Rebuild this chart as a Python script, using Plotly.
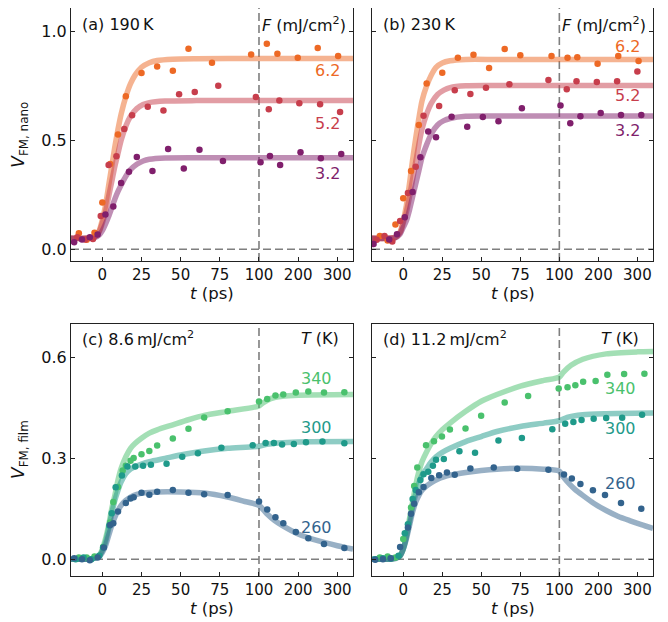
import plotly.graph_objects as go

# ---------------- data ----------------
# (a) 190 K, points
a62_t = [-15, -10, -5, 0, 5, 10, 15, 25, 35, 45, 55, 70, 95, 120, 147, 199, 250, 302]
a62_v = [0.073, 0.043, 0.076, 0.214, 0.391, 0.527, 0.702, 0.809, 0.838, 0.819, 0.920, 0.856, 0.894, 0.943, 0.897, 0.879, 0.923, 0.887]
a52_t = [-16, -11, -6, -1, 4, 9, 14, 19, 29, 39, 49, 59, 74, 98, 125, 152, 203, 256, 307]
a52_v = [0.055, 0.045, 0.047, 0.153, 0.387, 0.427, 0.552, 0.615, 0.654, 0.637, 0.711, 0.722, 0.750, 0.699, 0.642, 0.682, 0.670, 0.665, 0.630]
a32_t = [-18, -13, -8, -3, 2, 7, 12, 17, 22, 32, 42, 52, 62, 77, 104, 128, 154, 206, 258, 310]
a32_v = [0.032, 0.045, 0.055, 0.067, 0.159, 0.196, 0.304, 0.356, 0.423, 0.359, 0.460, 0.371, 0.457, 0.405, 0.399, 0.428, 0.387, 0.445, 0.417, 0.437]
# (a) fits
fa62_t = [-20, -10, -5, -2, 0, 2, 4, 6, 8, 10, 12, 15, 18, 21, 25, 30, 35, 45, 60, 100, 200, 340]
fa62_v = [0.05, 0.05, 0.055, 0.085, 0.135, 0.20, 0.29, 0.38, 0.47, 0.55, 0.62, 0.70, 0.76, 0.80, 0.835, 0.856, 0.866, 0.872, 0.874, 0.875, 0.875, 0.875]
fa52_t = [-20, -10, -5, -2, 0, 2, 4, 6, 8, 10, 12, 15, 18, 22, 26, 30, 40, 60, 100, 200, 340]
fa52_v = [0.05, 0.05, 0.055, 0.08, 0.12, 0.17, 0.24, 0.31, 0.38, 0.44, 0.50, 0.565, 0.61, 0.645, 0.664, 0.673, 0.680, 0.682, 0.682, 0.682, 0.682]
fa32_t = [-20, -10, -5, -2, 0, 2, 4, 6, 8, 10, 12, 15, 18, 22, 26, 30, 40, 60, 100, 200, 340]
fa32_v = [0.05, 0.05, 0.053, 0.065, 0.085, 0.115, 0.15, 0.19, 0.23, 0.265, 0.295, 0.335, 0.365, 0.39, 0.405, 0.413, 0.419, 0.42, 0.42, 0.42, 0.42]

# (b) 230 K, points
b62_t = [-15, -10, -5, 0, 5, 10, 15, 25, 35, 45, 55, 65, 75, 95, 121, 146, 198, 251, 303]
b62_v = [0.061, 0.040, 0.113, 0.234, 0.359, 0.570, 0.760, 0.810, 0.879, 0.893, 0.832, 0.919, 0.890, 0.887, 0.879, 0.881, 0.851, 0.887, 0.864]
b52_t = [-17, -12, -7, -2, 3, 8, 13, 23, 33, 43, 53, 68, 93, 119, 144, 196, 248, 300]
b52_v = [0.043, 0.061, 0.035, 0.130, 0.258, 0.378, 0.613, 0.657, 0.729, 0.712, 0.741, 0.757, 0.777, 0.734, 0.771, 0.767, 0.771, 0.816]
b32_t = [-19, -9, -4, 1, 6, 11, 16, 21, 31, 41, 51, 61, 76, 103, 128, 154, 206, 258, 310]
b32_v = [0.024, 0.045, 0.069, 0.147, 0.263, 0.422, 0.540, 0.514, 0.608, 0.562, 0.607, 0.587, 0.647, 0.659, 0.578, 0.610, 0.625, 0.616, 0.616]
# (b) fits
fb62_t = [-20, -10, -5, -2, 0, 2, 4, 6, 8, 10, 12, 15, 18, 21, 25, 30, 40, 60, 100, 200, 340]
fb62_v = [0.05, 0.05, 0.055, 0.08, 0.13, 0.20, 0.30, 0.41, 0.51, 0.60, 0.68, 0.75, 0.80, 0.835, 0.855, 0.865, 0.871, 0.871, 0.871, 0.871, 0.871]
fb52_t = [-20, -10, -5, -2, 0, 2, 4, 6, 8, 10, 12, 15, 18, 22, 26, 30, 40, 60, 100, 200, 340]
fb52_v = [0.05, 0.05, 0.054, 0.075, 0.12, 0.17, 0.24, 0.32, 0.40, 0.48, 0.55, 0.62, 0.67, 0.71, 0.73, 0.742, 0.75, 0.751, 0.751, 0.751, 0.751]
fb32_t = [-20, -10, -5, -2, 0, 2, 4, 6, 8, 10, 12, 15, 18, 22, 26, 30, 40, 60, 100, 200, 340]
fb32_v = [0.05, 0.05, 0.053, 0.07, 0.10, 0.13, 0.18, 0.24, 0.30, 0.36, 0.42, 0.48, 0.53, 0.57, 0.59, 0.60, 0.61, 0.611, 0.611, 0.611, 0.611]

# (c) 8.6 mJ/cm2, points
c340_t = [-15, -10, -5, 0.5, 5, 7, 10, 13, 15, 18, 20, 25, 30, 35, 45, 55, 65, 80, 100, 121, 142, 162, 194, 226, 266, 318]
c340_v = [0.005, 0.005, 0.008, 0.036, 0.109, 0.17, 0.215, 0.264, 0.278, 0.293, 0.301, 0.312, 0.322, 0.338, 0.359, 0.388, 0.422, 0.44, 0.469, 0.477, 0.487, 0.49, 0.496, 0.499, 0.496, 0.497]
c300_t = [-17, -12, -7, -2, 0.5, 4.5, 6, 8.5, 12.5, 16, 21, 26, 31, 41, 51, 61, 76, 96, 117, 138, 159, 189, 220, 262, 318]
c300_v = [0.0, 0.005, 0.0, 0.01, 0.035, 0.10, 0.137, 0.214, 0.249, 0.276, 0.276, 0.278, 0.281, 0.284, 0.305, 0.315, 0.332, 0.339, 0.346, 0.346, 0.341, 0.343, 0.348, 0.350, 0.345]
c260_t = [-18, -13, -8, -3, 1, 5, 7, 10, 15, 18, 20, 25, 30, 35, 45, 55, 65, 80, 100, 121, 142, 162, 194, 226, 266, 318]
c260_v = [0.003, 0.0, -0.003, 0.005, 0.035, 0.102, 0.107, 0.142, 0.167, 0.181, 0.184, 0.198, 0.192, 0.201, 0.206, 0.198, 0.193, 0.191, 0.172, 0.148, 0.125, 0.107, 0.081, 0.062, 0.045, 0.033]
# (c) fits
fc340_t = [-20, -10, -5, -2, 0, 2, 4, 6, 8, 10, 12, 15, 18, 21, 25, 30, 35, 45, 55, 65, 80, 100, 110, 130, 160, 200, 340]
fc340_v = [0.0, 0.0, 0.003, 0.01, 0.03, 0.06, 0.10, 0.15, 0.19, 0.235, 0.27, 0.305, 0.33, 0.345, 0.36, 0.375, 0.385, 0.40, 0.415, 0.428, 0.44, 0.456, 0.465, 0.478, 0.485, 0.488, 0.49]
fc300_t = [-20, -10, -5, -2, 0, 2, 4, 6, 8, 10, 12, 15, 18, 21, 25, 30, 40, 50, 65, 80, 100, 120, 150, 200, 340]
fc300_v = [0.0, 0.0, 0.003, 0.01, 0.025, 0.05, 0.09, 0.135, 0.175, 0.205, 0.23, 0.255, 0.268, 0.276, 0.283, 0.29, 0.30, 0.31, 0.322, 0.33, 0.336, 0.342, 0.346, 0.349, 0.35]
fc260_t = [-20, -10, -5, -2, 0, 2, 4, 6, 8, 10, 12, 15, 18, 22, 26, 35, 50, 65, 80, 90, 100, 120, 140, 160, 200, 250, 300, 340]
fc260_v = [0.0, 0.0, 0.003, 0.008, 0.02, 0.04, 0.07, 0.10, 0.125, 0.145, 0.16, 0.175, 0.185, 0.193, 0.197, 0.20, 0.20, 0.197, 0.185, 0.173, 0.16, 0.135, 0.115, 0.10, 0.075, 0.055, 0.04, 0.03]

# (d) 11.2 mJ/cm2, points
d340_t = [-15, -10, -5, 0, 5, 7, 9, 14.6, 19.7, 24.8, 29.9, 39.9, 49.9, 65, 80, 99.6, 121, 141, 161, 193, 223, 266, 318]
d340_v = [0.005, 0.008, 0.005, 0.06, 0.154, 0.218, 0.273, 0.339, 0.351, 0.365, 0.386, 0.389, 0.427, 0.466, 0.486, 0.508, 0.512, 0.518, 0.528, 0.530, 0.549, 0.551, 0.552]
d300_t = [-18, -13, -8, -3, 1, 3, 6, 8, 11, 13, 16, 19, 21, 26, 36, 46, 61, 76, 95.5, 115, 136, 157, 188, 220, 261, 312]
d300_v = [0.0, 0.003, 0.002, 0.01, 0.077, 0.104, 0.179, 0.206, 0.236, 0.253, 0.26, 0.278, 0.296, 0.298, 0.321, 0.317, 0.353, 0.361, 0.387, 0.403, 0.408, 0.414, 0.418, 0.420, 0.421, 0.430]
d260_t = [-18, -13, -8, -2, 3, 5, 7, 10, 13, 18, 23, 28, 33, 43, 58, 73, 93, 112, 132, 154, 186, 217, 258, 310]
d260_v = [-0.002, 0.0, 0.003, 0.036, 0.094, 0.135, 0.165, 0.199, 0.215, 0.242, 0.25, 0.258, 0.251, 0.27, 0.273, 0.269, 0.266, 0.252, 0.240, 0.224, 0.205, 0.191, 0.167, 0.150]
# (d) fits
fd340_t = [-20, -10, -5, -2, 0, 2, 4, 6, 8, 10, 12, 15, 18, 21, 25, 30, 40, 50, 60, 75, 90, 100, 110, 130, 160, 220, 300, 340]
fd340_v = [0.0, 0.0, 0.003, 0.01, 0.03, 0.07, 0.12, 0.17, 0.22, 0.26, 0.29, 0.32, 0.345, 0.365, 0.385, 0.405, 0.44, 0.47, 0.49, 0.515, 0.532, 0.542, 0.556, 0.577, 0.595, 0.611, 0.617, 0.618]
fd300_t = [-20, -10, -5, -2, 0, 2, 4, 6, 8, 10, 12, 15, 18, 21, 25, 30, 40, 50, 60, 75, 90, 100, 120, 160, 220, 340]
fd300_v = [0.0, 0.0, 0.003, 0.01, 0.03, 0.065, 0.11, 0.155, 0.195, 0.225, 0.25, 0.27, 0.29, 0.305, 0.318, 0.33, 0.35, 0.365, 0.38, 0.395, 0.405, 0.412, 0.422, 0.43, 0.433, 0.435]
fd260_t = [-20, -10, -5, -2, 0, 2, 4, 6, 8, 10, 12, 15, 18, 22, 26, 30, 40, 50, 60, 75, 90, 100, 110, 125, 140, 160, 190, 220, 250, 280, 310, 340]
fd260_v = [0.0, 0.0, 0.002, 0.01, 0.03, 0.06, 0.10, 0.14, 0.17, 0.19, 0.205, 0.218, 0.228, 0.238, 0.245, 0.25, 0.258, 0.264, 0.268, 0.271, 0.268, 0.262, 0.245, 0.225, 0.208, 0.19, 0.165, 0.145, 0.128, 0.115, 0.103, 0.092]

tick_vals = [0, 25, 50, 75, 100, 200, 300]
tick_text = ["0", "25", "50", "75", "100", "200", "300"]

# ---------------- styling ----------------
C62, C52, C32 = "#ED6925", "#C73E4C", "#801F6C"
C340, C300, C260 = "#4AC16D", "#1F9A8A", "#33638D"
FONT = "DejaVu Sans"
FS = 16
TFS = 15


def tx(t):
    """broken time axis: linear to 100 ps, compressed x1/4 beyond"""
    return t if t <= 100 else 100 + (t - 100) / 4.0


def txl(ts):
    return [tx(t) for t in ts]


fig = go.Figure()

panels = [
    ("x", "y", [(fa62_t, fa62_v, a62_t, a62_v, C62), (fa52_t, fa52_v, a52_t, a52_v, C52), (fa32_t, fa32_v, a32_t, a32_v, C32)]),
    ("x2", "y2", [(fb62_t, fb62_v, b62_t, b62_v, C62), (fb52_t, fb52_v, b52_t, b52_v, C52), (fb32_t, fb32_v, b32_t, b32_v, C32)]),
    ("x3", "y3", [(fc340_t, fc340_v, c340_t, c340_v, C340), (fc300_t, fc300_v, c300_t, c300_v, C300), (fc260_t, fc260_v, c260_t, c260_v, C260)]),
    ("x4", "y4", [(fd340_t, fd340_v, d340_t, d340_v, C340), (fd300_t, fd300_v, d300_t, d300_v, C300), (fd260_t, fd260_v, d260_t, d260_v, C260)]),
]

for xa, ya, series in panels:
    for ft, fv, pt, pv, col in series:
        fig.add_trace(go.Scatter(x=txl(ft), y=fv, mode="lines", xaxis=xa, yaxis=ya,
                                 line=dict(color=col, width=5.5, shape="spline", smoothing=0.7),
                                 opacity=0.5, showlegend=False, hoverinfo="skip"))
    for ft, fv, pt, pv, col in series:
        fig.add_trace(go.Scatter(x=txl(pt), y=pv, mode="markers", xaxis=xa, yaxis=ya,
                                 marker=dict(color=col, size=6.5, line=dict(width=0)),
                                 showlegend=False))

# dashed reference lines
for xa, ya in [("x", "y"), ("x2", "y2"), ("x3", "y3"), ("x4", "y4")]:
    fig.add_shape(type="line", xref=xa, yref=f"{ya} domain", x0=100, x1=100, y0=0, y1=1,
                  line=dict(color="#7f7f7f", width=1.6, dash="8px,4px"), layer="below")
    fig.add_shape(type="line", xref=f"{xa} domain", yref=ya, x0=0, x1=1, y0=0, y1=0,
                  line=dict(color="#7f7f7f", width=1.6, dash="8px,4px"), layer="below")

XL, XR = [0, 0.4845], [0.5172, 1.0]
YT, YB = [0.5546, 1.0], [0.0, 0.4437]

axis_common = dict(showgrid=False, zeroline=False, showline=True, linecolor="#222", linewidth=1.2,
                   ticks="inside", ticklen=4, tickwidth=1.1, tickcolor="#222",
                   tickfont=dict(family=FONT, size=TFS, color="#111"))

xcommon = dict(axis_common, range=[-20, 160], tickvals=[tx(v) for v in tick_vals], ticktext=tick_text, mirror=True)

# the page body has an 8 px margin: the figure is shrunk and its margins trimmed by 8 px
layout = dict(
    width=660, height=614,
    margin=dict(l=63, r=15, t=0, b=46, autoexpand=False),
    paper_bgcolor="white", plot_bgcolor="white",
    font=dict(family=FONT, size=FS, color="#111"),
    xaxis=dict(xcommon, domain=XL, anchor="y"),
    xaxis2=dict(xcommon, domain=XR, anchor="y2"),
    xaxis3=dict(xcommon, domain=XL, anchor="y3"),
    xaxis4=dict(xcommon, domain=XR, anchor="y4"),
    yaxis=dict(axis_common, domain=YT, anchor="x", range=[-0.054, 1.107], tickvals=[0, 0.5, 1.0],
               ticktext=["0.0", "0.5", "1.0"], mirror="ticks", tickfont=dict(family=FONT, size=FS, color="#111")),
    yaxis2=dict(axis_common, domain=YT, anchor="x2", range=[-0.054, 1.107], tickvals=[0, 0.5, 1.0],
                showticklabels=False, mirror="ticks"),
    yaxis3=dict(axis_common, domain=YB, anchor="x3", range=[-0.05, 0.70], tickvals=[0, 0.3, 0.6],
                ticktext=["0.0", "0.3", "0.6"], mirror="ticks", tickfont=dict(family=FONT, size=FS, color="#111")),
    yaxis4=dict(axis_common, domain=YB, anchor="x4", range=[-0.05, 0.70], tickvals=[0, 0.3, 0.6],
                showticklabels=False, mirror="ticks"),
)
fig.update_layout(**layout)

ann = []


def txt(text, x, y, xref, yref, xanchor="center", yanchor="middle", color="#111", angle=0, size=FS):
    ann.append(dict(text=text, x=x, y=y, xref=xref, yref=yref, xanchor=xanchor, yanchor=yanchor,
                    showarrow=False, textangle=angle, font=dict(family=FONT, size=size, color=color)))


# panel headers
txt("(a) 190\u2009K", 0.032, 0.933, "x domain", "y domain", xanchor="left")
txt("(b) 230\u2009K", 0.032, 0.933, "x2 domain", "y2 domain", xanchor="left")
txt("(c) 8.6\u2009mJ/cm<sup>2</sup>", 0.032, 0.944, "x3 domain", "y3 domain", xanchor="left")
txt("(d) 11.2\u2009mJ/cm<sup>2</sup>", 0.032, 0.944, "x4 domain", "y4 domain", xanchor="left")
txt("<i>F</i> (mJ/cm<sup>2</sup>)", 0.982, 0.933, "x domain", "y domain", xanchor="right")
txt("<i>F</i> (mJ/cm<sup>2</sup>)", 0.982, 0.933, "x2 domain", "y2 domain", xanchor="right")
txt("<i>T</i> (K)", 0.957, 0.944, "x3 domain", "y3 domain", xanchor="right")
txt("<i>T</i> (K)", 0.957, 0.944, "x4 domain", "y4 domain", xanchor="right")

# series labels
txt("6.2", tx(275), 0.822, "x", "y", color=C62)
txt("5.2", tx(275), 0.578, "x", "y", color=C52)
txt("3.2", tx(275), 0.349, "x", "y", color=C32)
txt("6.2", tx(275), 0.929, "x2", "y2", color=C62)
txt("5.2", tx(275), 0.705, "x2", "y2", color=C52)
txt("3.2", tx(275), 0.547, "x2", "y2", color=C32)
txt("340", tx(247), 0.539, "x3", "y3", color=C340)
txt("300", tx(247), 0.393, "x3", "y3", color=C300)
txt("260", tx(247), 0.095, "x3", "y3", color=C260)
txt("340", tx(257), 0.507, "x4", "y4", color=C340)
txt("300", tx(257), 0.390, "x4", "y4", color=C300)
txt("260", tx(257), 0.226, "x4", "y4", color=C260)

# axis titles
for xc in [0.2423, 0.7586]:
    txt("<i>t</i> (ps)", xc, 0.4975, "paper", "paper", size=16.5)
    txt("<i>t</i> (ps)", xc, -0.0575, "paper", "paper", size=16.5)
txt("<i>V</i><sub>FM, nano</sub>", -0.0876, 0.777, "paper", "paper", angle=-90, size=17)
txt("<i>V</i><sub>FM, film</sub>", -0.0876, 0.222, "paper", "paper", angle=-90, size=17)

fig.update_layout(annotations=ann)
fig.write_html("out.html")
